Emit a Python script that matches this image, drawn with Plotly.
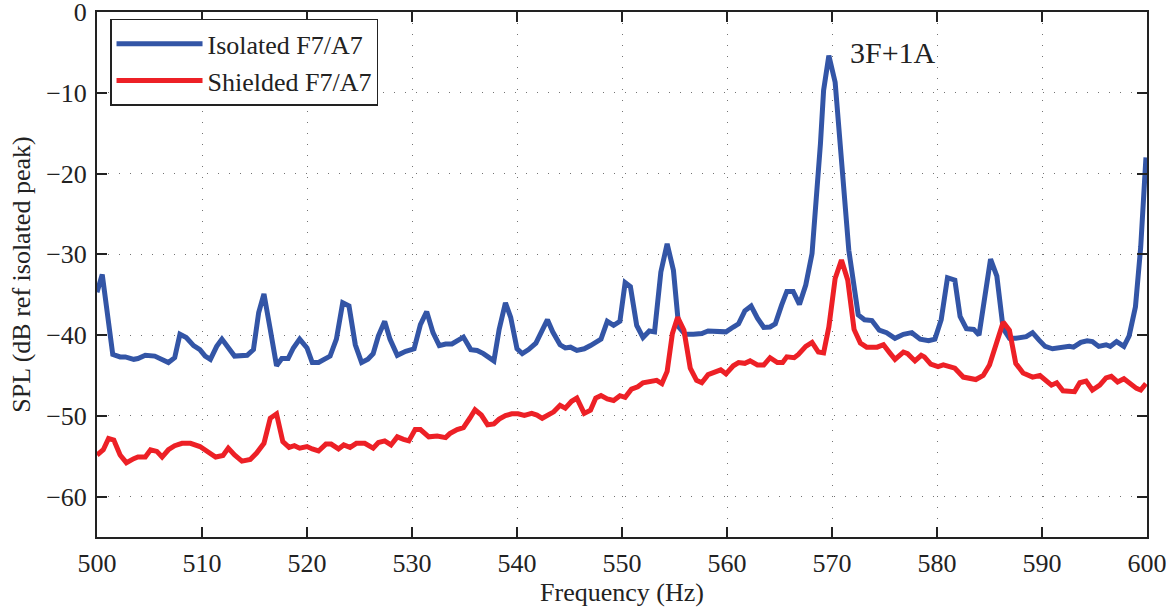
import plotly.graph_objects as go

# ---- data ----
iso_freq = [500.0, 500.5, 501.5, 502.2, 502.7, 503.5, 503.9, 504.6, 505.5, 506.2,
            506.8, 507.4, 507.9, 508.5, 509.2, 509.8, 510.3, 510.8, 511.4, 511.9,
            512.5, 513.1, 514.3, 514.9, 515.4, 515.9, 516.5, 517.1, 517.6, 518.2,
            518.7, 519.3, 520.0, 520.5, 521.1, 522.2, 522.8, 523.4, 524.0, 524.6,
            525.2, 525.8, 526.3, 526.8, 527.4, 527.9, 528.6, 529.4, 530.2, 530.8,
            531.4, 532.0, 532.6, 533.2, 533.8, 534.3, 534.9, 535.6, 536.2, 536.8,
            537.8, 538.3, 538.9, 539.4, 540.0, 540.5, 541.1, 541.8, 542.4, 542.9,
            543.4, 544.1, 544.6, 545.1, 545.7, 546.4, 547.0, 548.0, 548.6, 549.2,
            549.8, 550.3, 550.8, 551.4, 552.0, 552.6, 553.1, 553.7, 554.3, 554.9,
            555.4, 556.0, 556.8, 557.6, 558.2, 559.0, 559.9, 560.6, 561.1, 561.7,
            562.3, 562.9, 563.5, 564.1, 564.6, 565.2, 565.7, 566.3, 566.9, 567.5,
            568.1, 568.9, 569.2, 569.7, 570.3, 571.6, 572.5, 573.1, 573.8, 574.5,
            575.2, 576.0, 576.8, 577.6, 578.4, 579.2, 579.8, 580.4, 581.0, 581.7,
            582.2, 582.8, 583.5, 584.0, 584.5, 585.1, 585.7, 586.3, 586.9, 587.5,
            588.5, 589.1, 589.7, 590.3, 591.0, 591.8, 592.6, 593.0, 593.7, 594.3,
            594.8, 595.4, 596.1, 596.5, 597.1, 597.8, 598.3, 598.9, 599.4, 599.9]
iso_spl = [-34.7, -32.5, -42.4, -42.7, -42.7, -43.0, -42.9, -42.5, -42.6, -43.0,
           -43.4, -42.8, -39.9, -40.3, -41.3, -41.8, -42.6, -43.0, -41.4, -40.5,
           -41.5, -42.6, -42.5, -41.8, -37.2, -34.9, -39.3, -43.8, -42.9, -42.9,
           -41.6, -40.5, -41.6, -43.4, -43.4, -42.6, -40.5, -36.0, -36.4, -41.2,
           -43.4, -43.0, -42.3, -40.1, -38.3, -40.5, -42.5, -42.0, -41.7, -38.7,
           -37.1, -39.7, -41.3, -41.1, -41.1, -40.75, -40.25, -41.8, -41.9, -42.3,
           -43.2, -39.3, -36.0, -37.8, -41.7, -42.3, -41.8, -41.0, -39.5, -38.1,
           -39.6, -41.2, -41.6, -41.5, -41.9, -41.7, -41.3, -40.5, -38.3, -38.8,
           -38.3, -33.5, -34.0, -38.8, -40.3, -39.5, -39.6, -32.2, -28.7, -32.0,
           -39.0, -39.9, -39.9, -39.8, -39.5, -39.6, -39.6, -39.0, -38.6, -37.0,
           -36.4, -37.9, -39.05, -39.0, -38.6, -36.3, -34.6, -34.6, -36.2, -33.8,
           -29.9, -16.3, -9.7, -5.4, -8.7, -29.5, -37.5, -38.1, -38.2, -39.4,
           -39.7, -40.4, -39.9, -39.7, -40.5, -40.7, -40.5, -38.1, -32.9, -33.2,
           -37.7, -39.2, -39.3, -40.0, -35.7, -30.6, -32.7, -39.2, -40.4, -40.4,
           -40.2, -39.7, -40.6, -41.4, -41.7, -41.5, -41.4, -41.5, -40.9, -40.7,
           -40.8, -41.4, -41.2, -41.4, -40.8, -41.4, -40.1, -36.5, -29.1, -18.0]

shd_freq = [500.0, 500.6, 501.1, 501.6, 502.2, 502.8, 503.5, 503.9, 504.6, 505.1,
            505.7, 506.2, 506.8, 507.4, 508.1, 508.9, 509.8, 510.6, 511.3, 512.0,
            512.5, 513.1, 513.8, 514.6, 515.2, 515.9, 516.5, 517.1, 517.7, 518.3,
            518.8, 519.3, 520.0, 520.5, 521.1, 521.8, 522.3, 523.0, 523.5, 524.1,
            524.7, 525.5, 526.3, 526.8, 527.4, 528.0, 528.6, 529.2, 529.7, 530.3,
            530.8, 531.6, 532.4, 533.2, 533.6, 534.3, 534.9, 535.5, 536.0, 536.6,
            537.2, 537.8, 538.3, 538.9, 539.5, 540.1, 540.7, 541.4, 541.9, 542.4,
            543.0, 543.5, 544.1, 544.6, 545.2, 545.7, 546.4, 547.0, 547.5, 548.0,
            548.6, 549.2, 549.8, 550.3, 550.9, 551.5, 552.0, 552.6, 553.3, 553.8,
            554.3, 554.8, 555.3, 555.9, 556.5, 557.1, 557.6, 558.2, 558.9, 559.4,
            559.9, 560.6, 561.1, 561.7, 562.2, 562.9, 563.5, 564.1, 564.8, 565.3,
            565.7, 566.4, 566.8, 567.5, 568.1, 568.7, 569.2, 569.7, 570.3, 570.9,
            571.5, 572.1, 572.7, 573.3, 574.3, 574.9, 575.5, 576.0, 576.8, 577.2,
            577.9, 578.5, 578.8, 579.4, 580.1, 580.6, 581.7, 582.5, 583.7, 584.4,
            585.0, 585.7, 586.3, 586.9, 587.5, 588.2, 589.1, 589.8, 590.4, 590.9,
            591.4, 592.0, 593.1, 593.6, 594.2, 594.8, 595.5, 596.1, 596.6, 597.2,
            597.8, 598.3, 599.0, 599.4, 599.9]
shd_spl = [-54.85, -54.2, -52.8, -53.0, -54.85, -55.8, -55.3, -55.1, -55.1, -54.2,
           -54.4, -55.1, -54.2, -53.7, -53.4, -53.4, -53.8, -54.4, -55.1, -54.9,
           -54.0, -54.85, -55.6, -55.4, -54.6, -53.4, -50.3, -49.75, -53.2, -53.9,
           -53.7, -54.0, -53.8, -54.1, -54.35, -53.5, -53.5, -54.1, -53.6, -53.9,
           -53.4, -53.4, -54.0, -53.3, -53.1, -53.6, -52.6, -52.9, -53.1, -51.7,
           -51.7, -52.6, -52.5, -52.7, -52.2, -51.7, -51.45, -50.3, -49.25, -49.9,
           -51.1, -51.0, -50.4, -49.96, -49.75, -49.75, -49.96, -49.7, -49.9, -50.3,
           -49.9, -49.5, -48.7, -49.05, -48.2, -47.8, -49.7, -49.3, -47.8, -47.5,
           -47.9, -48.1, -47.5, -47.7, -46.7, -46.4, -45.9, -45.8, -45.6, -46.0,
           -44.5, -39.8, -37.8, -39.4, -44.1, -45.6, -45.9, -44.9, -44.5, -44.3,
           -44.8, -43.8, -43.4, -43.5, -43.2, -43.7, -43.7, -42.8, -43.4, -43.4,
           -42.7, -42.8, -42.4, -41.4, -40.9, -42.1, -42.2, -39.0, -33.0, -30.7,
           -33.2, -39.3, -41.0, -41.5, -41.5, -41.2, -42.2, -43.0, -42.1, -42.3,
           -43.2, -42.5, -42.7, -43.6, -43.9, -43.7, -44.1, -45.2, -45.5, -45.0,
           -43.7, -40.6, -38.4, -39.4, -43.5, -44.7, -45.2, -45.0, -45.6, -46.2,
           -45.9, -46.9, -47.0, -45.9, -45.7, -46.8, -46.2, -45.3, -45.1, -45.8,
           -45.4, -45.9, -46.6, -46.8, -46.0]

series_names = ["Isolated F7/A7", "Shielded F7/A7"]
x_ticks = [500, 510, 520, 530, 540, 550, 560, 570, 580, 590, 600]
y_ticks = [0, -10, -20, -30, -40, -50, -60]
peak_label = "3F+1A"
peak_label_pos = (575.8, -5.0)

BLUE = "#3355A6"
RED = "#ED2026"
FONT = "Liberation Serif"
INK = "#222222"

fig = go.Figure()
fig.add_trace(go.Scatter(x=iso_freq, y=iso_spl, mode="lines", name=series_names[0],
                         line=dict(color=BLUE, width=5)))
fig.add_trace(go.Scatter(x=shd_freq, y=shd_spl, mode="lines", name=series_names[1],
                         line=dict(color=RED, width=5)))

axis_common = dict(
    automargin=False, ticklabeloverflow="allow",
    showline=True, linecolor=INK, linewidth=2, mirror="ticks",
    ticks="inside", ticklen=10, tickwidth=1.5, tickcolor=INK,
    showgrid=True, gridcolor="rgba(0,0,0,0.55)", gridwidth=1, griddash="1px,10px",
    zeroline=False, tickfont=dict(family=FONT, size=26, color=INK),
)

fig.update_layout(
    width=1176, height=608,
    margin=dict(l=97, r=29, t=12, b=71, autoexpand=False),
    paper_bgcolor="white", plot_bgcolor="white",
    font=dict(family=FONT, size=26, color=INK),
    xaxis=dict(range=[500, 600], tickvals=x_ticks, ticklabelstandoff=2,
               title=dict(text="Frequency (Hz)", font=dict(family=FONT, size=26, color=INK),
                          standoff=4),
               **axis_common),
    yaxis=dict(range=[-65, 0], tickvals=y_ticks, ticklabelstandoff=3,
               title=dict(text="SPL (dB ref isolated peak)",
                          font=dict(family=FONT, size=26, color=INK), standoff=8),
               **axis_common),
    legend=dict(x=0.0124, y=0.987, xanchor="left", yanchor="top",
                bgcolor="white", bordercolor=INK, borderwidth=1.5,
                font=dict(family=FONT, size=26, color=INK),
                itemwidth=86, tracegroupgap=0),
    showlegend=True,
)

fig.add_annotation(x=peak_label_pos[0], y=peak_label_pos[1], text=peak_label,
                   showarrow=False, font=dict(family=FONT, size=30, color=INK),
                   xanchor="center", yanchor="middle")

fig.write_html("out.html", config={"displayModeBar": False},
               post_script="document.body.style.margin='0';document.body.style.overflow='hidden';")
